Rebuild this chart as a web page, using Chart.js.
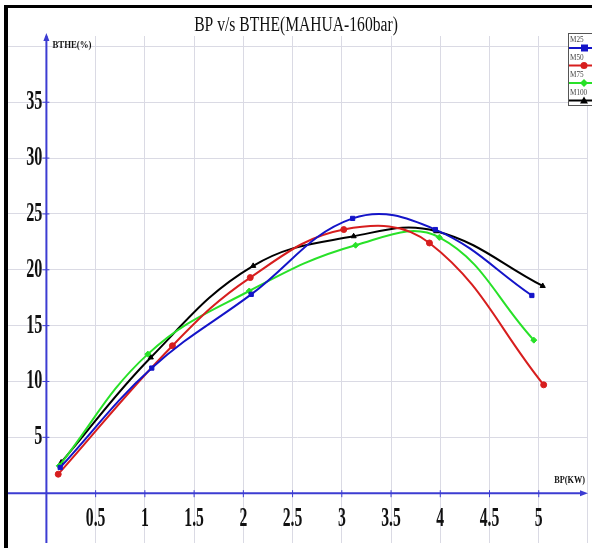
<!DOCTYPE html>
<html>
<head>
<meta charset="utf-8">
<script src="https://cdn.jsdelivr.net/npm/chart.js@4.4.0/dist/chart.umd.min.js"></script>
<style>
  body { margin: 0; background: #fff; }
  canvas { display: block; }
</style>
</head>
<body>
<canvas id="myChart" width="592" height="548"></canvas>
<script>
// datos
const seriesNames = ['M25', 'M50', 'M75', 'M100'];
const bpM25 = [0.14, 1.07, 2.08, 3.11, 3.95, 4.93];
const btheM25 = [2.3, 11.2, 17.8, 24.6, 23.6, 17.7];
const bpM50 = [0.12, 1.28, 2.07, 3.02, 3.89, 5.05];
const btheM50 = [1.7, 13.2, 19.3, 23.6, 22.4, 9.7];
const bpM75 = [0.13, 1.03, 2.06, 3.14, 3.99, 4.95];
const btheM75 = [2.45, 12.45, 18.1, 22.2, 22.9, 13.7];
const bpM100 = [0.15, 1.06, 2.10, 3.12, 3.96, 5.04];
const btheM100 = [2.75, 12.15, 20.35, 23.0, 23.45, 18.55];
const xTickLabels = ['0.5', '1', '1.5', '2', '2.5', '3', '3.5', '4', '4.5', '5'];
const yTickLabels = ['5', '10', '15', '20', '25', '30', '35'];
const xGrid = [0.5, 1, 1.5, 2, 2.5, 3, 3.5, 4, 4.5, 5, 5.5];
const yGrid = [5, 10, 15, 20, 25, 30, 35, 40];

const colors = ['rgb(20,20,200)', 'rgb(215,30,30)', 'rgb(40,225,40)', 'rgb(0,0,0)'];
const styles = ['rect', 'circle', 'rectRot', 'triangle'];

function toPoints(xs, ys) {
    return xs.map((x, i) => ({ x: x, y: ys[i] }));
}

const allData = [
    toPoints(bpM25, btheM25),
    toPoints(bpM50, btheM50),
    toPoints(bpM75, btheM75),
    toPoints(bpM100, btheM100)
];

function condensed(ctx, text, x, y, font, sx, align) {
    ctx.save();
    ctx.font = font;
    ctx.translate(x, y);
    ctx.scale(sx, 1);
    ctx.textAlign = align;
    ctx.textBaseline = 'middle';
    ctx.fillText(text, 0, 0);
    ctx.restore();
}

const axesPlugin = {
    id: 'axesPlugin',
    beforeDatasetsDraw(chart) {
        const ctx = chart.ctx;
        const xs = chart.scales.x, ys = chart.scales.y;
        const x0 = xs.getPixelForValue(0), y0 = ys.getPixelForValue(0);
        const area = chart.chartArea;
        ctx.save();
        ctx.strokeStyle = 'rgb(60,60,210)';
        ctx.fillStyle = 'rgb(60,60,210)';
        ctx.lineWidth = 2;
        ctx.beginPath();
        ctx.moveTo(x0, area.bottom);
        ctx.lineTo(x0, area.top);
        ctx.moveTo(area.left, y0);
        ctx.lineTo(area.right - 4, y0);
        ctx.stroke();
        // flechas
        ctx.beginPath();
        ctx.moveTo(x0, area.top - 3);
        ctx.lineTo(x0 - 3, area.top + 5);
        ctx.lineTo(x0 + 3, area.top + 5);
        ctx.closePath();
        ctx.fill();
        ctx.beginPath();
        ctx.moveTo(area.right + 1, y0);
        ctx.lineTo(area.right - 7, y0 - 3);
        ctx.lineTo(area.right - 7, y0 + 3);
        ctx.closePath();
        ctx.fill();
        // marcas
        ctx.lineWidth = 1;
        ctx.beginPath();
        yTickLabels.forEach(t => {
            const py = ys.getPixelForValue(parseFloat(t));
            ctx.moveTo(x0 - 4, py);
            ctx.lineTo(x0 + 3, py);
        });
        xTickLabels.forEach(t => {
            const px = xs.getPixelForValue(parseFloat(t));
            ctx.moveTo(px, y0 - 3);
            ctx.lineTo(px, y0 + 4);
        });
        ctx.stroke();
        // etiquetas
        ctx.fillStyle = '#111';
        yTickLabels.forEach(t => {
            condensed(ctx, t, x0 - 4, ys.getPixelForValue(parseFloat(t)), 'bold 27px "Liberation Serif"', 0.6, 'right');
        });
        xTickLabels.forEach(t => {
            condensed(ctx, t, xs.getPixelForValue(parseFloat(t)), y0 + 26, 'bold 27px "Liberation Serif"', 0.58, 'center');
        });
        condensed(ctx, 'BTHE(%)', x0 + 6, ys.getPixelForValue(40) - 1, 'bold 11px "Liberation Serif"', 0.8, 'left');
        condensed(ctx, 'BP(KW)', area.right - 2, y0 - 13, 'bold 11px "Liberation Serif"', 0.75, 'right');
        ctx.restore();
    },
    afterDraw(chart) {
        const ctx = chart.ctx;
        ctx.save();
        // marco
        ctx.fillStyle = '#000';
        ctx.fillRect(4, 7, 4, 541);
        ctx.fillRect(4, 5, 588, 3);
        // titulo
        ctx.fillStyle = '#111';
        condensed(ctx, 'BP v/s BTHE(MAHUA-160bar)', 296, 26, '20px "Liberation Serif"', 0.78, 'center');
        // leyenda
        const lx = 568, top = 33;
        ctx.fillStyle = '#fff';
        ctx.fillRect(lx, top, 26, 72);
        ctx.strokeStyle = '#555';
        ctx.lineWidth = 1;
        ctx.strokeRect(lx + 0.5, top + 0.5, 30, 72);
        seriesNames.forEach((name, i) => {
            const ty = top + 7 + i * 17.5;
            ctx.fillStyle = '#444';
            condensed(ctx, name, lx + 2, ty, '8px "Liberation Serif"', 0.9, 'left');
            const ly = ty + 8;
            ctx.strokeStyle = colors[i];
            ctx.lineWidth = 2;
            ctx.beginPath();
            ctx.moveTo(lx + 1, ly);
            ctx.lineTo(592, ly);
            ctx.stroke();
            ctx.fillStyle = colors[i];
            ctx.beginPath();
            if (styles[i] === 'rect') {
                ctx.rect(lx + 13, ly - 3.5, 7, 7);
            } else if (styles[i] === 'circle') {
                ctx.arc(lx + 16, ly, 3.5, 0, Math.PI * 2);
            } else if (styles[i] === 'rectRot') {
                ctx.moveTo(lx + 16, ly - 4); ctx.lineTo(lx + 20, ly);
                ctx.lineTo(lx + 16, ly + 4); ctx.lineTo(lx + 12, ly);
            } else {
                ctx.moveTo(lx + 16, ly - 4); ctx.lineTo(lx + 20, ly + 3);
                ctx.lineTo(lx + 12, ly + 3);
            }
            ctx.closePath();
            ctx.fill();
        });
        ctx.restore();
    }
};

const ctx = document.getElementById('myChart').getContext('2d');
new Chart(ctx, {
    type: 'scatter',
    data: {
        datasets: seriesNames.map((name, i) => ({
            label: name,
            data: allData[i],
            showLine: true,
            tension: 0.4,
            borderColor: colors[i],
            backgroundColor: colors[i],
            borderWidth: 2,
            pointStyle: styles[i],
            pointRadius: 3,
            pointBorderWidth: 1
        }))
    },
    options: {
        responsive: false,
        animation: false,
        devicePixelRatio: 1,
        layout: { padding: { left: 8, top: 36, right: 0, bottom: 0 } },
        plugins: { legend: { display: false }, tooltip: { enabled: false } },
        scales: {
            x: {
                type: 'linear',
                min: -0.39,
                max: 5.49,
                afterBuildTicks: s => { s.ticks = xGrid.map(v => ({ value: v })); },
                ticks: { display: false },
                border: { display: false },
                grid: { color: 'rgb(218,218,228)', drawTicks: false }
            },
            y: {
                type: 'linear',
                min: -4.46,
                max: 40.93,
                afterBuildTicks: s => { s.ticks = yGrid.map(v => ({ value: v })); },
                ticks: { display: false },
                border: { display: false },
                grid: { color: 'rgb(218,218,228)', drawTicks: false }
            }
        }
    },
    plugins: [axesPlugin]
});
</script>
</body>
</html>
